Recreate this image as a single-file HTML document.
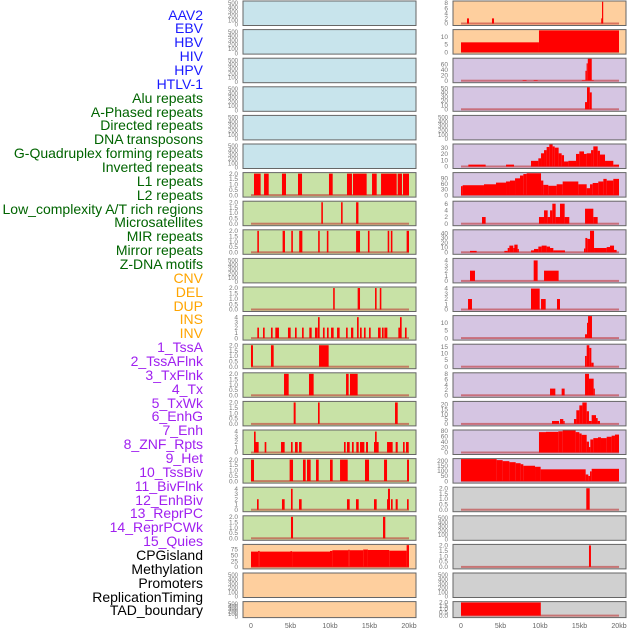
<!DOCTYPE html>
<html><head><meta charset="utf-8">
<style>
body{margin:0;background:#fff;width:630px;height:630px;overflow:hidden;position:relative;font-family:"Liberation Sans",sans-serif}
.lab{position:absolute;right:427px;font-size:14px;line-height:14px;white-space:nowrap;text-align:right}
svg{position:absolute;left:0;top:0}
</style></head><body>
<div id="labels"></div>
<svg id="chart" width="630" height="630"></svg>
<script>
const labelNames=["AAV2","EBV","HBV","HIV","HPV","HTLV-1","Alu repeats","A-Phased repeats","Directed repeats","DNA transposons","G-Quadruplex forming repeats","Inverted repeats","L1 repeats","L2 repeats","Low_complexity A/T rich regions","Microsatellites","MIR repeats","Mirror repeats","Z-DNA motifs","CNV","DEL","DUP","INS","INV","1_TssA","2_TssAFlnk","3_TxFlnk","4_Tx","5_TxWk","6_EnhG","7_Enh","8_ZNF_Rpts","9_Het","10_TssBiv","11_BivFlnk","12_EnhBiv","13_ReprPC","14_ReprPCWk","15_Quies","CPGisland","Methylation","Promoters","ReplicationTiming","TAD_boundary"];
const labelColors=["#1a1aff","#1a1aff","#1a1aff","#1a1aff","#1a1aff","#1a1aff","#006400","#006400","#006400","#006400","#006400","#006400","#006400","#006400","#006400","#006400","#006400","#006400","#006400","#ffa500","#ffa500","#ffa500","#ffa500","#ffa500","#a020f0","#a020f0","#a020f0","#a020f0","#a020f0","#a020f0","#a020f0","#a020f0","#a020f0","#a020f0","#a020f0","#a020f0","#a020f0","#a020f0","#a020f0","#000","#000","#000","#000","#000"];
const xTickValues=[0,5,10,15,20];
const xTickLabels=["0","5kb","10kb","15kb","20kb"];

// Left column panels
const L6=[[0.38,1.22,2],[1.65,2.24,2],[3.92,4.43,2],[5.95,6.46,2],[9.87,10.34,2],[12.15,12.78,2],[12.91,14.64,2],[15.32,15.91,2],[16.46,18.44,2],[18.57,19.11,2],[19.24,20,2]];
const L7=[[8.9,9.1,2],[11.4,11.6,2],[13.3,13.6,2]];
const L8=[[0.8,1.0,2],[4.0,4.3,2],[5.1,5.3,2],[6.1,6.5,2],[8.5,8.7,2],[9.6,9.8,2],[13.3,13.8,2],[14.8,15.0,2],[17.3,17.5,2],[17.7,17.9,2],[19.7,20,2]];
const L10=[[10.4,10.6,2],[13.5,13.8,2],[15.7,15.9,2],[16.3,16.5,2]];
const L11=[[0.8,1.01,2],[1.52,1.73,2],[2.53,2.74,2],[3.08,3.54,2],[4.68,5.02,2],[5.57,5.78,2],[6.46,6.67,2],[7.38,7.68,2],[8.1,8.44,2],[8.48,8.69,4],[9.11,9.32,2],[9.62,9.83,2],[10.13,10.46,2],[10.89,11.22,2],[12.03,12.24,2],[12.66,12.95,2],[13.42,13.63,4],[13.8,14.01,2],[14.3,14.51,2],[14.94,15.15,2],[16.08,16.41,2],[16.58,16.79,2],[16.88,17.26,2],[18.65,18.86,2],[18.86,19.07,4],[19.49,19.7,2]];
const L12=[[0,0.25,2],[2.53,2.87,2],[8.61,9.83,2]];
const L13=[[4.18,4.77,2],[7.34,7.93,2],[12.03,12.36,2],[12.53,13.5,2]];
const L14=[[5.4,5.65,2],[8.48,8.69,2],[18.23,18.57,2]];
const L15=[[0.38,0.97,2],[0.38,0.59,4],[1.73,1.94,2],[3.8,4.26,2],[5.06,5.27,2],[5.57,5.91,2],[6.08,6.41,2],[11.77,11.98,2],[12.15,12.49,2],[12.78,13.0,2],[13.33,13.63,2],[13.8,14.35,2],[14.56,14.81,2],[15.57,16.16,2],[15.7,15.91,4],[17.22,17.93,2],[18.31,18.57,2],[19.24,19.45,2],[19.62,19.96,2]];
const L16=[[0,0.38,2],[4.89,5.32,2],[6.58,6.92,2],[7.09,7.55,2],[8.23,8.57,2],[10.0,10.34,2],[11.27,12.24,2],[14.43,14.94,2],[16.84,17.22,2],[19.75,20,2]];
const L17=[[0.76,0.97,2],[3.92,4.26,2],[5.06,5.27,4],[6.08,6.41,2],[12.15,12.49,2],[13.29,13.63,2],[15.57,15.91,2],[17.22,17.59,2],[17.34,17.59,4],[17.72,17.93,2],[18.31,18.57,2],[19.75,19.96,2]];
const L18=[[5.06,5.32,2],[16.71,17.0,2]];
const L19=[[0,0.9,66],[0.9,1.1,69],[1.1,5.0,66],[5.0,5.2,68],[5.2,10.0,66],[10.0,10.3,69],[10.3,12.3,72],[12.3,12.5,74],[12.5,14.2,72],[14.2,14.8,75],[14.8,17.5,73],[17.5,19.7,70],[19.7,20,94]];
// Right column panels
const R0=[[0.76,1.01,2],[3.92,4.18,2],[17.75,17.97,2],[17.85,17.97,8.5]];
const R1=[[0,9.87,6.3],[9.87,20,14]];
const R2=[[7.8,8.3,2],[9.2,9.7,2],[15.3,15.75,2],[15.75,15.9,36],[15.9,16.05,63],[16.05,16.55,80],[16.55,16.8,2]];
const R3=[[15.7,15.95,17],[15.95,16.3,52],[16.3,16.55,40]];
const R5=[[0.93,3.12,3],[5.7,6.71,3],[8.86,9.79,9],[9.79,10.13,13],[10.13,10.51,21],[10.51,10.84,26],[10.84,11.18,31],[11.18,11.6,35],[11.6,11.86,32],[11.86,12.36,30],[12.36,12.74,21],[12.74,13.04,18],[13.04,13.59,8],[13.59,14.56,9],[14.56,14.98,20],[14.98,15.57,24],[15.57,15.91,20],[15.91,16.46,21],[16.46,16.75,26],[16.75,17.3,32],[17.3,17.59,25],[17.59,18.23,19],[18.23,19.28,9],[19.28,20,3]];
const R6=[[0,0.21,48],[0.21,2.91,53],[2.91,4.43,58],[4.43,5.7,67],[5.7,6.2,73],[6.2,6.84,78],[6.84,7.47,90],[7.47,7.89,105],[7.89,8.31,113],[8.31,10.13,117],[10.13,10.42,78],[10.42,11.05,55],[11.05,12.11,50],[12.11,12.87,58],[12.87,14.85,73],[14.85,15.91,58],[15.91,16.33,37],[16.33,16.67,58],[16.67,17.38,65],[17.38,18.02,73],[18.02,18.44,87],[18.44,19.28,78],[19.28,20,87]];
const R7=[[2.66,3.12,2],[9.87,10.51,2],[10.51,10.97,4],[10.97,11.27,2],[11.27,11.56,4],[11.56,11.98,6],[11.98,12.53,2],[12.53,13.12,6],[13.12,13.71,2],[15.7,16.75,4.5],[16.75,17.3,2]];
const R8=[[1.14,1.98,3],[5.49,5.91,3],[5.91,6.12,9],[6.12,6.62,14],[6.62,6.75,9],[6.75,7.17,16],[7.17,7.3,7],[8.86,9.24,4],[9.24,9.79,7],[9.79,10.21,12],[10.21,10.84,14],[10.84,11.27,12],[11.27,11.69,9],[11.69,13.16,4],[15.57,15.74,8],[15.74,15.99,30],[15.99,16.33,28],[16.33,16.84,45],[16.84,18.44,9],[18.44,18.86,11],[18.86,19.37,14],[19.37,19.7,5]];
const R9=[[1.14,1.77,2],[9.2,9.7,4],[10.51,12.36,2]];
const R10=[[0.89,1.39,2],[8.86,9.96,4],[10.13,10.72,2],[12.15,12.53,2]];
const R11=[[15.7,15.95,2.5],[15.95,16.08,10],[16.08,16.58,14.4]];
const R12=[[15.7,15.91,8],[15.91,16.24,16],[16.24,16.5,14],[16.5,16.79,3]];
const R13=[[11.27,11.94,2.5],[12.74,13.12,2.5],[15.7,16.2,8],[16.2,16.79,6.2],[16.79,16.92,2.5]];
const R14=[[11.52,12.41,3],[12.53,12.95,5],[12.95,13.12,3],[14.3,14.6,5],[14.6,14.98,14],[14.98,15.36,19],[15.36,15.91,22],[15.91,16.2,13],[16.2,16.54,3],[16.54,17.09,9],[17.09,17.3,6],[17.3,17.59,3]];
const R15=[[9.87,10.76,75],[10.76,12.32,76],[12.32,12.87,78],[12.87,14.51,82],[14.51,14.98,75],[14.98,15.27,70],[15.27,15.91,65],[15.91,16.2,40],[16.2,16.37,20],[16.37,16.75,48],[16.75,17.34,53],[17.34,17.72,56],[17.72,18.44,53],[18.44,19.07,58],[19.07,19.49,62],[19.49,20,66]];
const R16=[[0,4.51,215],[4.51,5.27,205],[5.27,6.12,195],[6.12,6.92,185],[6.92,7.55,175],[7.55,7.89,165],[7.89,9.37,150],[9.37,10.08,140],[10.08,15.78,115],[15.78,16.12,65],[16.12,16.33,50],[16.33,16.54,95],[16.54,20,120]];
const R17=[[15.86,16.29,2]];
const R19=[[16.2,16.45,2]];
const R21=[[0,10.1,2]];

const leftSegs=[null,null,null,null,null,null,L6,L7,L8,null,L10,L11,L12,L13,L14,L15,L16,L17,L18,L19,null,null];
const rightSegs=[R0,R1,R2,R3,null,R5,R6,R7,R8,R9,R10,R11,R12,R13,R14,R15,R16,R17,null,R19,null,R21];
const leftYmax=[0,0,0,0,0,0,2.05,2.05,2.05,0,2.05,4.2,2.05,2.05,2.05,4.2,2.05,4.2,2.05,95,0,0];
const rightYmax=[8.6,14.2,80,52,0,35,118,6.6,46,4.3,4.2,14.4,16.4,8.2,22.6,81,215,2.05,0,2.05,0,2.05];
const T2=[0,0.5,1,1.5,2],T4=[0,1,2,3,4];
const leftTicks=[null,null,null,null,null,null,T2,T2,T2,null,T2,T4,T2,T2,T2,T4,T2,T4,T2,[0,25,50,75],null,null];
const rightTicks=[[0,2,4,6,8],[0,5,10],[0,20,40,60],[0,10,20,30,40,50],null,[0,10,20,30],[0,30,60,90],[0,2,4,6],[0,10,20,30,40],T4,T4,[0,5,10],[0,5,10,15],[0,2,4,6,8],[0,5,10,15,20],[0,20,40,60,80],[0,50,100,150,200],T2,null,T2,null,T2];
const leftBg=["#c8e4ec","#c8e4ec","#c8e4ec","#c8e4ec","#c8e4ec","#c8e4ec","#c8e2a6","#c8e2a6","#c8e2a6","#c8e2a6","#c8e2a6","#c8e2a6","#c8e2a6","#c8e2a6","#c8e2a6","#c8e2a6","#c8e2a6","#c8e2a6","#c8e2a6","#fecf9e","#fecf9e","#fecf9e"];
const rightBg=["#fecf9e","#fecf9e","#d5c5e2","#d5c5e2","#d5c5e2","#d5c5e2","#d5c5e2","#d5c5e2","#d5c5e2","#d5c5e2","#d5c5e2","#d5c5e2","#d5c5e2","#d5c5e2","#d5c5e2","#d5c5e2","#d5c5e2","#d0d0d0","#d0d0d0","#d0d0d0","#d0d0d0","#d0d0d0"];
const emptyTicks=["500","400","300","200","100","0"];

const NS="http://www.w3.org/2000/svg";
const svg=document.getElementById('chart');
function mk(tag,attrs,parent){const e=document.createElementNS(NS,tag);for(const k in attrs)e.setAttribute(k,attrs[k]);(parent||svg).appendChild(e);return e;}

// labels
const labDiv=document.getElementById('labels');
labelNames.forEach((n,i)=>{
  const d=document.createElement('div');
  d.className='lab';
  d.style.top=(15+13.86*i-7.5)+'px';
  d.style.color=labelColors[i];
  d.textContent=n;
  
  
  labDiv.appendChild(d);
});

function rowTop(i){return 1+28.6*i;}
function rowH(i){return i===21?16:24.5;}

function drawPanel(col,i,bg,segs,ymax,ticks){
  const px=col===0?243:453;
  const x0=col===0?251:461;
  const xs=kb=>x0+kb*7.9;
  const top=rowTop(i),h=rowH(i);
  const yb=top+h-2, yt=top+0.5;
  const ys=v=>yb-(v/ymax)*(yb-yt);
  const g=mk('g',{});
  
  
  mk('rect',{x:px,y:top,width:173,height:h,fill:bg,stroke:'#666',"stroke-width":1},g);
  if(segs){
    mk('rect',{x:xs(0),y:yb-1,width:xs(20)-xs(0),height:2,fill:'rgba(190,40,40,0.55)'},g);
    segs.forEach(s=>{
      const r=mk('rect',{x:xs(s[0]),y:ys(Math.min(s[2],ymax)),width:Math.max(xs(s[1])-xs(s[0]),1.2),height:yb-ys(Math.min(s[2],ymax)),fill:'#ff0000'},g);
      
      
    });
  }
  const tx=px-5;
  if(ticks){
    ticks.forEach(t=>{
      const y=i===21?yb-(t/2.05)*(yb-yt):ys(t);
      const tt=mk('text',{x:tx,y:y+2.2,"text-anchor":"end","font-size":6.5,fill:'#777'},g);
      tt.textContent=(ticks===T2)?t.toFixed(1):String(t);
    });
  } else {
    emptyTicks.forEach((t,k)=>{
      const y=top+2+k*(h-3)/5;
      const tt=mk('text',{x:tx,y:y+2.2,"text-anchor":"end","font-size":6,fill:'#777'},g);
      tt.textContent=t;
    });
  }
}
for(let i=0;i<22;i++){
  drawPanel(0,i,leftBg[i],leftSegs[i],leftYmax[i],leftTicks[i]);
  drawPanel(1,i,rightBg[i],rightSegs[i],rightYmax[i],rightTicks[i]);
}
[251,461].forEach((x0,c)=>{
  xTickValues.forEach((v,k)=>{
    const t=mk('text',{x:x0+v*7.9,y:628,"text-anchor":"middle","font-size":7,fill:'#666'});
    
    
    t.textContent=xTickLabels[k];
  });
});
</script>
</body></html>
